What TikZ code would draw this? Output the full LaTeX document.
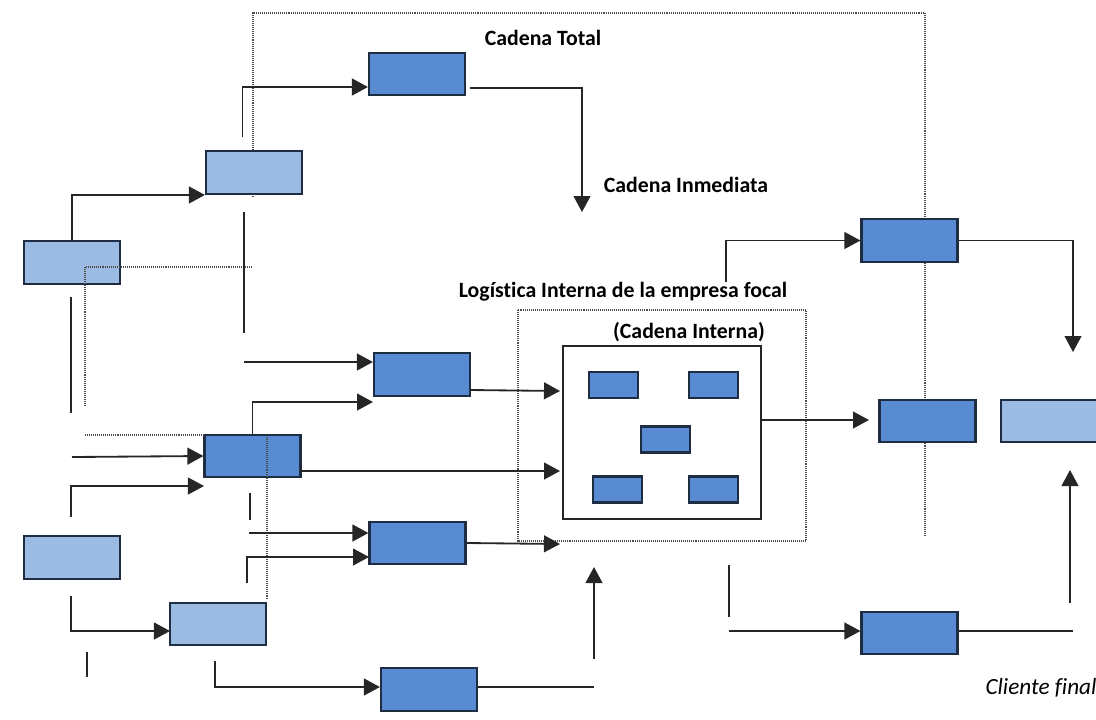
\documentclass[tikz,border=0pt]{standalone}
\usepackage{fontspec}
\setmainfont{Carlito}[Ligatures=NoCommon]
\usepackage{xcolor}
\usetikzlibrary{arrows.meta,positioning,calc}

\definecolor{darkbox}{HTML}{588BD1}
\definecolor{lightbox}{HTML}{9BBBE3}
\definecolor{boxline}{HTML}{1F2D44}

\begin{document}
\begin{tikzpicture}[
    x=0.025cm, y=-0.025cm,
    box/.style={rectangle, draw=boxline, line width=1.5pt, minimum width=2.4cm, minimum height=1.07cm, inner sep=0pt},
    dbox/.style={box, fill=darkbox},
    lbox/.style={box, fill=lightbox},
    sbox/.style={rectangle, draw=boxline, line width=1.5pt, fill=darkbox, minimum width=1.22cm, minimum height=0.65cm, inner sep=0pt},
    arrow/.style={-{Triangle[length=0.4cm,width=0.42cm]}, line width=1.3pt, black!85},
    link/.style={line width=1.3pt, black!85},
    frame/.style={gray!60!black, line width=0.8pt, dash pattern=on 0.7pt off 0.7pt},
    label/.style={font=\bfseries\fontsize{15.5}{18}\selectfont}
]
\useasboundingbox (0,0) rectangle (1096,719);

% Cadena Total (outer dotted frame)
\draw[frame] (253,197) -- (253,13) -- (925,13) -- (925,537);
\node[label] (total) at (543,38) {Cadena Total};
\node[label] (inmed) at (686,185) {Cadena Inmediata};

% Logistica interna (dotted frame)
\draw[frame] (518,310) rectangle (806,541);
\node[label] (logi) at (623,292) {Logística Interna de la empresa focal};
\node[label] (cint) at (689,332) {(Cadena Interna)};

% suppliers (left side)
\node[lbox] (A1) at (72,262.5) {};
\node[lbox] (A2) at (254,172.5) {};
\node[dbox] (B1) at (417,74) {};
\node[dbox] (B2) at (422,374.5) {};
\node[dbox] (B3) at (252.5,456) {};
\node[dbox] (B4) at (417.5,543) {};
\node[lbox] (A4) at (72,557.5) {};
\node[lbox] (A5) at (218,624) {};
\node[dbox] (E) at (429,689.5) {};

% focal firm
\draw[line width=1.3pt, black!85] (563,346) rectangle (761,519);
\node[sbox] (s1) at (613.5,385) {};
\node[sbox] (s2) at (713.5,385) {};
\node[sbox] (s3) at (665.5,439.5) {};
\node[sbox] (s4) at (617.5,489.5) {};
\node[sbox] (s5) at (713.5,489.5) {};

% clients (right side)
\node[dbox] (C1) at (909.5,240.5) {};
\node[dbox] (C2) at (927.5,421) {};
\node[lbox] (C3) at (1049,421) {};
\node[dbox] (D) at (909.5,633) {};
\node[font=\itshape\fontsize{16.5}{19}\selectfont] (cli) at (1041,688) {Cliente final};

% free ends
\coordinate (a2up) at (242.5,137);
\coordinate (b1out) at (470,88);
\coordinate (downtip) at (582,212);
\coordinate (v1a) at (244,212);
\coordinate (v1b) at (244,333);
\coordinate (v2a) at (71,297);
\coordinate (v2b) at (71,413);
\coordinate (b2in) at (244,362);
\coordinate (b2lo) at (373,402);
\coordinate (b2out) at (470,390);
\coordinate (b3in) at (72,457);
\coordinate (b3lo0) at (71,517);
\coordinate (b3lo) at (204,486);
\coordinate (b3out) at (300,471);
\coordinate (v3a) at (250,493);
\coordinate (v3b) at (250,520);
\coordinate (b4in) at (249,533);
\coordinate (b4lo0) at (247,583);
\coordinate (b4lo) at (369,557);
\coordinate (b4tip) at (560,544);
\coordinate (a4dn) at (71,596);
\coordinate (a5lo) at (170,631);
\coordinate (v4a) at (87,652);
\coordinate (v4b) at (87,677);
\coordinate (a5dn) at (215,661);
\coordinate (eend) at (594,687);
\coordinate (uptail) at (594,659);
\coordinate (uptip) at (594,567);
\coordinate (innerout) at (761,420);
\coordinate (c2tip) at (869,420);
\coordinate (c1up) at (726,282);
\coordinate (c1tip) at (1073,352);
\coordinate (v5a) at (729,565);
\coordinate (v5b) at (729,617);
\coordinate (din) at (729,631);
\coordinate (dend) at (1073,631);
\coordinate (c3tail) at (1070,603);
\coordinate (c3tip) at (1070,470);
\coordinate (in1) at (560,391);
\coordinate (in2) at (560,471);

% dotted links from the first supplier
\draw[frame] (85,406) -- (85,267) -- (253,267);
\draw[frame] (85,435) -- (B3.west |- 85,435);
\draw[frame] (267,437) -- (267,600);

% arrows upstream
\draw[arrow] (A1.north) |- (A2.south west);
\draw[arrow] (a2up) |- (B1.west |- 0,87);
\draw[arrow] (b1out) -| (downtip);
\draw[link] (v1a) -- (v1b);
\draw[link] (v2a) -- (v2b);
\draw[arrow] (b2in) -- (b2in -| B2.west);
\draw[arrow] (B3.north) |- (b2lo);
\draw[arrow] (b2out) -- (in1);
\draw[arrow] (b3in) -- (B3.west);
\draw[arrow] (b3lo0) |- (b3lo);
\draw[arrow] (b3out) -- (in2);
\draw[link] (v3a) -- (v3b);
\draw[arrow] (b4in) -- (b4in -| B4.west);
\draw[arrow] (b4lo0) |- (b4lo);
\draw[arrow] (B4.east) -- (b4tip);
\draw[arrow] (a4dn) |- (a5lo);
\draw[link] (v4a) -- (v4b);
\draw[arrow] (a5dn) |- (E.west |- eend);
\draw[link] (E.east |- eend) -- (eend);
\draw[arrow] (uptail) -- (uptip);

% arrows downstream
\draw[arrow] (innerout) -- (c2tip);
\draw[arrow] (c1up) |- (C1.west);
\draw[arrow] (C1.east) -| (c1tip);
\draw[link] (v5a) -- (v5b);
\draw[arrow] (din) -- (din -| D.west);
\draw[link] (D.east |- dend) -- (dend);
\draw[arrow] (c3tail) -- (c3tip);

\end{tikzpicture}
\end{document}
